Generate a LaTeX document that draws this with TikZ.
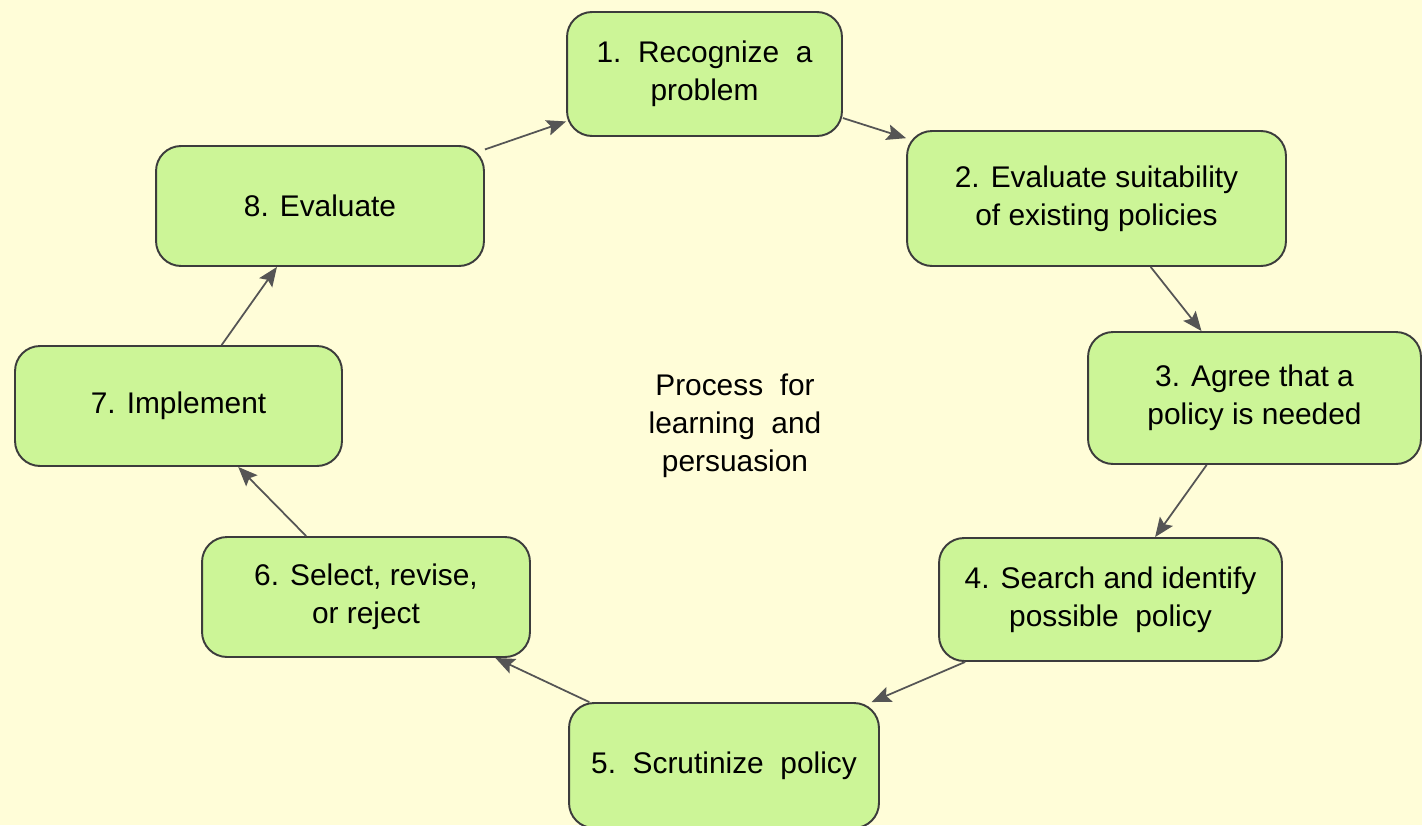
\documentclass[tikz,border=0pt]{standalone}
\usepackage{fontspec}
\setmainfont{Liberation Sans}
\usetikzlibrary{arrows.meta}
\definecolor{bgyellow}{RGB}{255,253,216}
\definecolor{stagegreen}{RGB}{204,245,151}
\definecolor{edgegray}{RGB}{60,60,60}
\definecolor{arrowgray}{RGB}{85,85,85}
\begin{document}
\begin{tikzpicture}[x=0.02cm,y=-0.02cm,
    stage/.style={draw=edgegray, fill=stagegreen, line width=1.1pt, rounded corners=0.5cm,
      align=center, inner sep=0pt, font=\fontsize{17}{21.5}\selectfont},
    flow/.style={draw=arrowgray, line width=1pt, -{Stealth[length=11pt,width=9pt,inset=2pt]}}]
			\fill[bgyellow] (0,0) rectangle (1422,825);
			\useasboundingbox (0,0) rectangle (1422,825);
			% stages of the cycle
			\node[stage, minimum width=5.5cm, minimum height=2.48cm] (recog) at (704.5,74) {1.\ \ Recognize\ \ a\\problem};
			\node[stage, minimum width=7.58cm, minimum height=2.7cm] (evalsuit) at (1096.5,198.5) {2. Evaluate suitability\\of existing policies};
			\node[stage, minimum width=6.66cm, minimum height=2.64cm] (agree) at (1254.5,398) {3. Agree that a\\policy is needed};
			\node[stage, minimum width=6.86cm, minimum height=2.46cm] (search) at (1110.5,599.5) {4. Search and identify\\possible\ \ policy};
			\node[stage, minimum width=6.2cm, minimum height=2.5cm] (scrut) at (724,765.5) {5.\ \ Scrutinize\ \ policy};
			\node[stage, minimum width=6.56cm, minimum height=2.4cm] (select) at (366,597) {6. Select, revise,\\or reject};
			\node[stage, minimum width=6.54cm, minimum height=2.4cm] (impl) at (178.5,406) {7. Implement};
			\node[stage, minimum width=6.56cm, minimum height=2.4cm] (evalu) at (320,206) {8. Evaluate};
			\node[align=center, font=\fontsize{17}{21.5}\selectfont] (centre) at (735,426) {Process\ \ for\\learning\ \ and\\persuasion};
			% connectors
			\draw[flow] (recog) -- (evalsuit);
			\draw[flow] (evalsuit) -- (agree);
			\draw[flow] (agree) -- (search);
			\draw[flow] (search) -- (scrut);
			\draw[flow] (scrut) -- (select);
			\draw[flow] (select) -- (impl);
			\draw[flow] (impl) -- (evalu);
			\draw[flow] (evalu) -- (recog);
		    \end{tikzpicture}
\end{document}
